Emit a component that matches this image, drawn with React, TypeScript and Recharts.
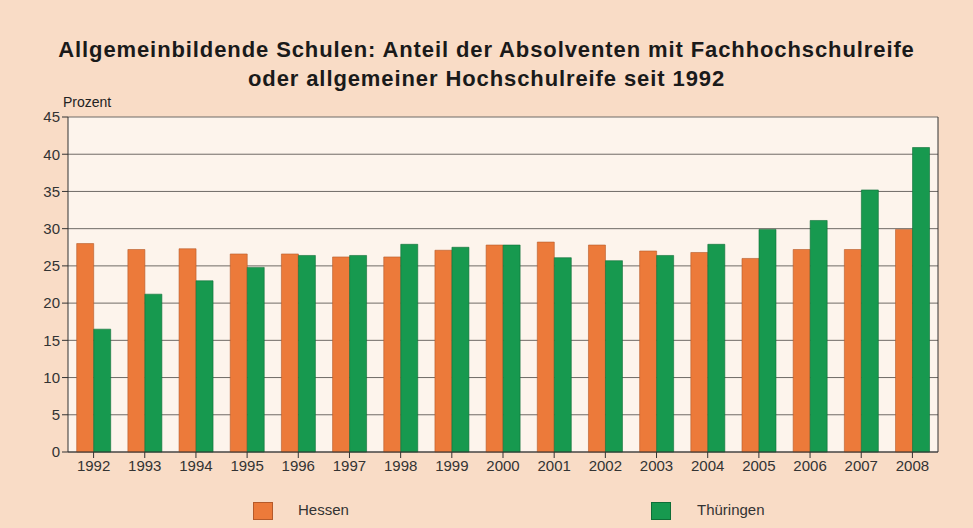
import React from "react";
import { BarChart, Bar, XAxis, YAxis, CartesianGrid } from "recharts";

const years = ["1992", "1993", "1994", "1995", "1996", "1997", "1998", "1999", "2000", "2001", "2002", "2003", "2004", "2005", "2006", "2007", "2008"];
const hessen = [28.0, 27.2, 27.3, 26.6, 26.6, 26.2, 26.2, 27.1, 27.8, 28.2, 27.8, 27.0, 26.8, 26.0, 27.2, 27.2, 29.9];
const thueringen = [16.5, 21.2, 23.0, 24.8, 26.4, 26.4, 27.9, 27.5, 27.8, 26.1, 25.7, 26.4, 27.9, 29.9, 31.1, 35.2, 40.9];
const yTicks = [0, 5, 10, 15, 20, 25, 30, 35, 40, 45];

const ORANGE = "#EC7A3A";
const GREEN = "#17994F";
const BG = "#F9DCC6";
const PLOT_BG = "#FDF4EC";
const FONT = "'Liberation Sans', Arial, sans-serif";

const data = years.map((year, i) => ({ year, hessen: hessen[i], thueringen: thueringen[i] }));

export default function App() {
  return (
    <div style={{ position: "fixed", left: 0, top: 0, width: 973, height: 528, background: BG, fontFamily: FONT, overflow: "hidden" }}>
      <div style={{ position: "absolute", top: 35, left: 0, width: 973, textAlign: "center", fontWeight: "bold", fontSize: 22, letterSpacing: 0.9, lineHeight: "29px", color: "#1a1a1a" }}>
        Allgemeinbildende Schulen: Anteil der Absolventen mit Fachhochschulreife
        <br />
        oder allgemeiner Hochschulreife seit 1992
      </div>
      <div style={{ position: "absolute", top: 94, left: 63, fontSize: 14, color: "#222" }}>Prozent</div>
      <BarChart
        width={973}
        height={528}
        data={data}
        margin={{ top: 117, right: 25, bottom: 46, left: 8 }}
        barCategoryGap="17%"
        barGap={0}
      >
        <CartesianGrid vertical={false} stroke="#6f6a66" fill={PLOT_BG} yAxisId="left" />
        <XAxis
          dataKey="year"
          height={30}
          axisLine={{ stroke: "#333" }}
          tickLine={{ stroke: "#333" }}
          tickSize={6}
          tick={{ fill: "#333", fontSize: 15, fontFamily: FONT }}
          interval={0}
        />
        <YAxis
          yAxisId="left"
          width={60}
          domain={[0, 45]}
          ticks={yTicks}
          axisLine={{ stroke: "#333" }}
          tickLine={{ stroke: "#333" }}
          tickSize={6}
          tick={{ fill: "#333", fontSize: 15, fontFamily: FONT }}
          interval={0}
        />
        <YAxis
          yAxisId="right"
          orientation="right"
          width={10}
          domain={[0, 45]}
          ticks={yTicks}
          axisLine={{ stroke: "#333" }}
          tickLine={{ stroke: "#333" }}
          tickSize={4}
          tickFormatter={() => ""}
        />
        <Bar yAxisId="left" dataKey="hessen" fill={ORANGE} stroke="#b55a2a" strokeWidth={0.6} isAnimationActive={false} />
        <Bar yAxisId="left" dataKey="thueringen" fill={GREEN} stroke="#0f6e37" strokeWidth={0.6} isAnimationActive={false} />
      </BarChart>
      <div style={{ position: "absolute", top: 502, left: 253, width: 18, height: 16, background: ORANGE, border: "1px solid #b55a2a" }} />
      <div style={{ position: "absolute", top: 501, left: 298, fontSize: 15, color: "#333" }}>Hessen</div>
      <div style={{ position: "absolute", top: 502, left: 651, width: 18, height: 16, background: GREEN, border: "1px solid #0f6e37" }} />
      <div style={{ position: "absolute", top: 501, left: 697, fontSize: 15, color: "#333" }}>Thüringen</div>
    </div>
  );
}
